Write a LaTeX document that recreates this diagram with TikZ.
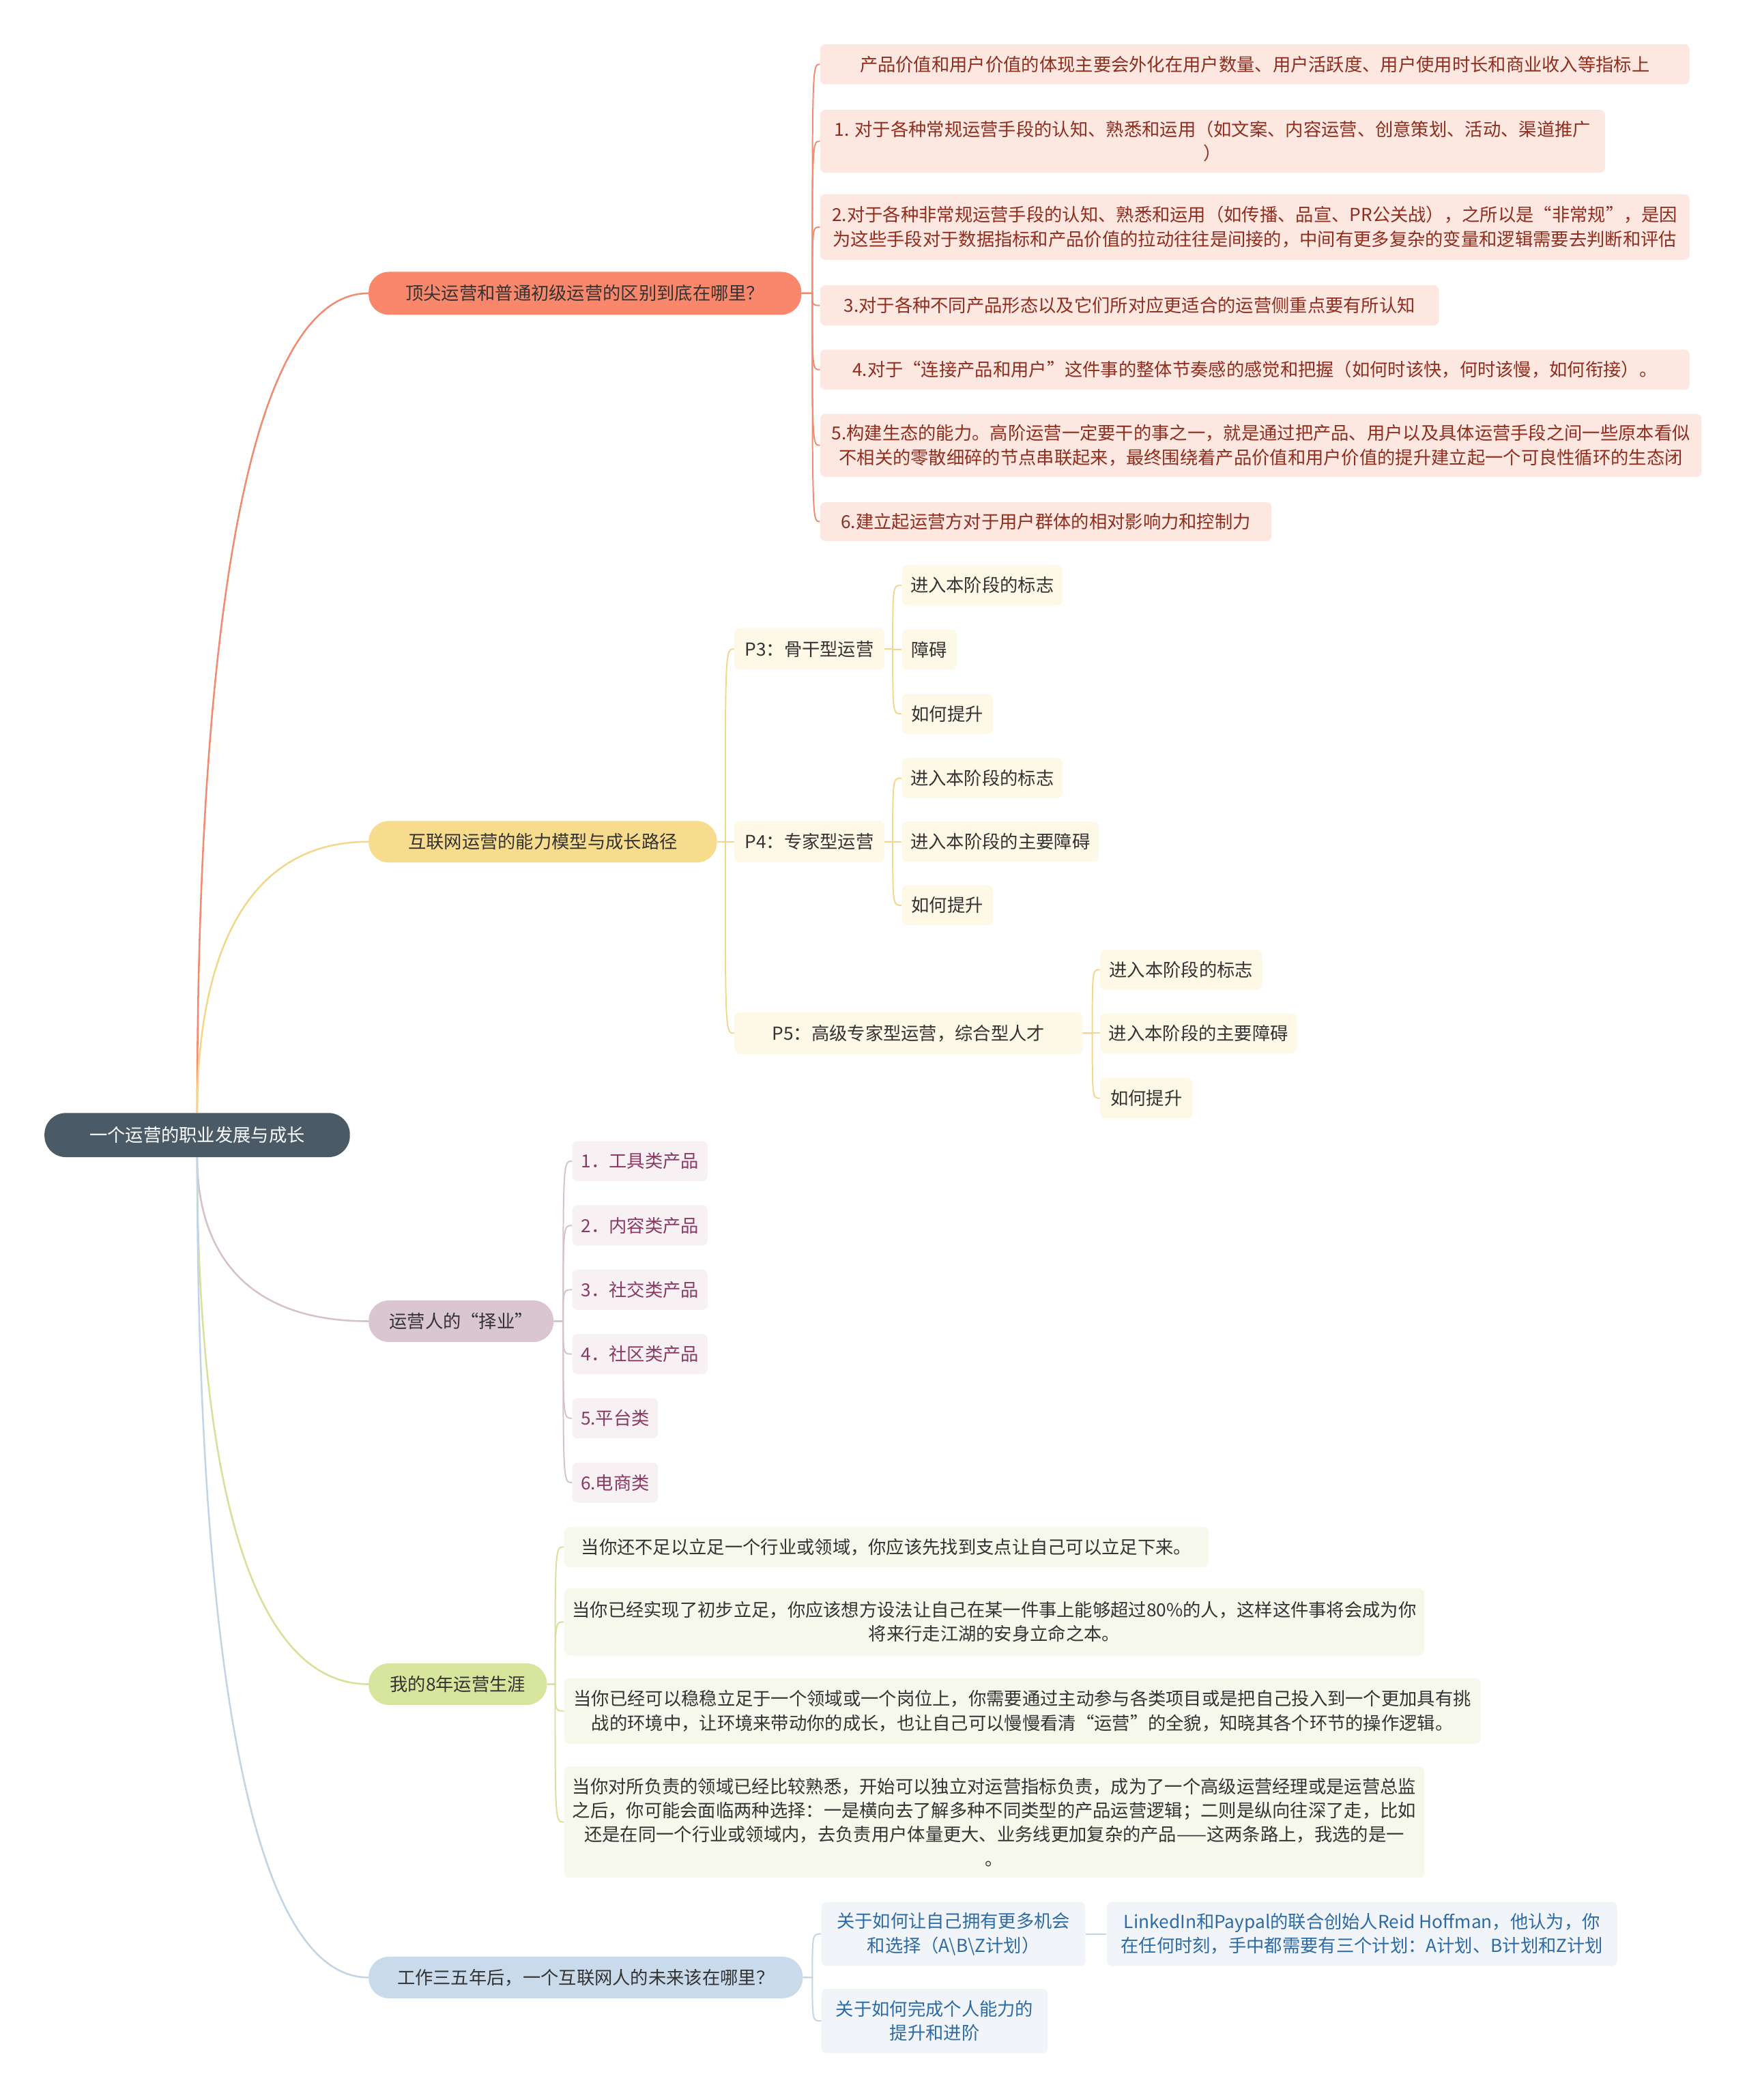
\documentclass[tikz,border=0pt]{standalone}
\usepackage{fontspec}
\setmainfont{Noto Sans CJK SC}
\usetikzlibrary{calc}
\definecolor{rootc}{HTML}{4A5A67}
\definecolor{b1c}{HTML}{F9876B}
\definecolor{b1l}{HTML}{F08C70}
\definecolor{b1k}{HTML}{FDE7E1}
\definecolor{b1t}{HTML}{8F2E1E}
\definecolor{b2c}{HTML}{F7DC8E}
\definecolor{b2l}{HTML}{F2D88C}
\definecolor{b2k}{HTML}{FEF8E7}
\definecolor{b3c}{HTML}{D9C6D0}
\definecolor{b3l}{HTML}{D5C2CC}
\definecolor{b3k}{HTML}{F7F1F4}
\definecolor{b3t}{HTML}{8A3A62}
\definecolor{b4c}{HTML}{D8E59C}
\definecolor{b4l}{HTML}{D4E29A}
\definecolor{b4k}{HTML}{F6F8EB}
\definecolor{b5c}{HTML}{C9DAEA}
\definecolor{b5l}{HTML}{C2D5E7}
\definecolor{b5k}{HTML}{F1F5F9}
\definecolor{b5t}{HTML}{2D6BA6}
\definecolor{txt}{HTML}{333333}
\newcommand{\rootlink}[3]{\draw[#1] (root.#2) .. controls ($(root.#2)!.5!(root.#2 |- #3.west)$) and ([xshift=-100pt]#3.west) .. (#3.west);}
\newcommand{\kidlink}[4]{\draw[#1] (#2.east) -- (#3) .. controls (#3 |- #4.west) .. (#4.west);}
\begin{document}
\begin{tikzpicture}[x=1pt,y=-1pt,
  every node/.style={font=\fontsize{13.4}{18}\selectfont, inner sep=0pt, align=center, anchor=west},
  rootnode/.style={fill=rootc,text=white,rounded corners=16pt},
  pill/.style={rounded corners=15pt,text=txt},
  leaf/.style={rounded corners=4pt},
  k1/.style={leaf,fill=b1k,text=b1t},
  k2/.style={leaf,fill=b2k,text=txt},
  k3/.style={leaf,fill=b3k,text=b3t},
  k4/.style={leaf,fill=b4k,text=txt},
  k5/.style={leaf,fill=b5k,text=b5t},
  lk1/.style={draw=b1l,line width=1.3pt},
  lk2/.style={draw=b2l,line width=1.3pt},
  lk3/.style={draw=b3l,line width=1.3pt},
  lk4/.style={draw=b4l,line width=1.3pt},
  lk5/.style={draw=b5l,line width=1.3pt},
  kl1/.style={draw=b1l,line width=1pt},
  kl2/.style={draw=b2l,line width=1pt},
  kl3/.style={draw=b3l,line width=1pt},
  kl4/.style={draw=b4l,line width=1pt},
  kl5/.style={draw=b5l,line width=1pt}]
\fill[white] (0,0) rectangle (1304,1568);
\useasboundingbox (0,0) rectangle (1304,1568);

% root
\node[rootnode,minimum width=228pt,minimum height=33pt] (root) at (33,847.5) {一个运营的职业发展与成长};

% branch 1
\node[pill,fill=b1c,minimum width=323pt,minimum height=32pt] (b1) at (275,219) {顶尖运营和普通初级运营的区别到底在哪里？};
\node[k1,minimum width=649pt,minimum height=30pt] (c1) at (612,48) {产品价值和用户价值的体现主要会外化在用户数量、用户活跃度、用户使用时长和商业收入等指标上};
\node[k1,minimum width=586pt,minimum height=47pt] (c2) at (612,105.5) {1. 对于各种常规运营手段的认知、熟悉和运用（如文案、内容运营、创意策划、活动、渠道推广\\）};
\node[k1,minimum width=649pt,minimum height=49pt] (c3) at (612,169.5) {2.对于各种非常规运营手段的认知、熟悉和运用（如传播、品宣、PR公关战），之所以是“非常规”，是因\\为这些手段对于数据指标和产品价值的拉动往往是间接的，中间有更多复杂的变量和逻辑需要去判断和评估};
\node[k1,minimum width=462pt,minimum height=30pt] (c4) at (612,228) {3.对于各种不同产品形态以及它们所对应更适合的运营侧重点要有所认知};
\node[k1,minimum width=649pt,minimum height=30pt] (c5) at (612,276) {4.对于“连接产品和用户”这件事的整体节奏感的感觉和把握（如何时该快，何时该慢，如何衔接）。};
\node[k1,minimum width=658pt,minimum height=47pt] (c6) at (612,332.5) {5.构建生态的能力。高阶运营一定要干的事之一，就是通过把产品、用户以及具体运营手段之间一些原本看似\\不相关的零散细碎的节点串联起来，最终围绕着产品价值和用户价值的提升建立起一个可良性循环的生态闭};
\node[k1,minimum width=337pt,minimum height=29pt] (c7) at (612,389.5) {6.建立起运营方对于用户群体的相对影响力和控制力};

% branch 2
\node[pill,fill=b2c,minimum width=260pt,minimum height=31pt] (b2) at (275,628.5) {互联网运营的能力模型与成长路径};
\node[k2,minimum width=112pt,minimum height=31pt] (p3) at (548,484.5) {P3：骨干型运营};
\node[k2,minimum width=112pt,minimum height=31pt] (p4) at (548,628.5) {P4：专家型运营};
\node[k2,minimum width=260pt,minimum height=31pt] (p5) at (548,771.5) {P5：高级专家型运营，综合型人才};
\node[k2,minimum width=120pt,minimum height=30pt] (q31) at (673,437) {进入本阶段的标志};
\node[k2,minimum width=41pt,minimum height=30pt] (q32) at (673,485) {障碍};
\node[k2,minimum width=68pt,minimum height=30pt] (q33) at (673,533) {如何提升};
\node[k2,minimum width=120pt,minimum height=30pt] (q41) at (673,581) {进入本阶段的标志};
\node[k2,minimum width=147pt,minimum height=30pt] (q42) at (673,628.5) {进入本阶段的主要障碍};
\node[k2,minimum width=68pt,minimum height=30pt] (q43) at (673,676) {如何提升};
\node[k2,minimum width=121pt,minimum height=30pt] (q51) at (821,724) {进入本阶段的标志};
\node[k2,minimum width=147pt,minimum height=30pt] (q52) at (821,771.5) {进入本阶段的主要障碍};
\node[k2,minimum width=69pt,minimum height=30pt] (q53) at (821,820) {如何提升};

% branch 3
\node[pill,fill=b3c,minimum width=138pt,minimum height=31pt] (b3) at (275,986.5) {运营人的“择业”};
\node[k3,minimum width=101pt,minimum height=30pt] (d1) at (427,867) {1．工具类产品};
\node[k3,minimum width=101pt,minimum height=30pt] (d2) at (427,915) {2．内容类产品};
\node[k3,minimum width=101pt,minimum height=30pt] (d3) at (427,963) {3．社交类产品};
\node[k3,minimum width=101pt,minimum height=30pt] (d4) at (427,1011) {4．社区类产品};
\node[k3,minimum width=64pt,minimum height=30pt] (d5) at (427,1059) {5.平台类};
\node[k3,minimum width=64pt,minimum height=30pt] (d6) at (427,1107) {6.电商类};

% branch 4
\node[pill,fill=b4c,minimum width=133pt,minimum height=31pt] (b4) at (275,1257.5) {我的8年运营生涯};
\node[k4,minimum width=481pt,minimum height=30pt] (e1) at (421,1155) {当你还不足以立足一个行业或领域，你应该先找到支点让自己可以立足下来。};
\node[k4,minimum width=642pt,minimum height=50pt] (e2) at (421,1211) {当你已经实现了初步立足，你应该想方设法让自己在某一件事上能够超过80\%的人，这样这件事将会成为你\\将来行走江湖的安身立命之本。};
\node[k4,minimum width=684pt,minimum height=49pt] (e3) at (421,1277.5) {当你已经可以稳稳立足于一个领域或一个岗位上，你需要通过主动参与各类项目或是把自己投入到一个更加具有挑\\战的环境中，让环境来带动你的成长，也让自己可以慢慢看清“运营”的全貌，知晓其各个环节的操作逻辑。};
\node[k4,minimum width=642pt,minimum height=83pt] (e4) at (421,1360.5) {当你对所负责的领域已经比较熟悉，开始可以独立对运营指标负责，成为了一个高级运营经理或是运营总监\\之后，你可能会面临两种选择：一是横向去了解多种不同类型的产品运营逻辑；二则是纵向往深了走，比如\\还是在同一个行业或领域内，去负责用户体量更大、业务线更加复杂的产品——这两条路上，我选的是一\\。};

% branch 5
\node[pill,fill=b5c,minimum width=324pt,minimum height=31pt] (b5) at (275,1476.5) {工作三五年后，一个互联网人的未来该在哪里？};
\node[k5,minimum width=197pt,minimum height=48pt] (f1) at (613,1444) {关于如何让自己拥有更多机会\\和选择（A\textbackslash B\textbackslash Z计划）};
\node[k5,minimum width=381pt,minimum height=48pt] (f1a) at (826,1444) {LinkedIn和Paypal的联合创始人Reid Hoffman，他认为，你\\在任何时刻，手中都需要有三个计划：A计划、B计划和Z计划};
\node[k5,minimum width=169pt,minimum height=48pt] (f2) at (613,1509) {关于如何完成个人能力的\\提升和进阶};

% root links
\rootlink{lk1}{north}{b1}
\rootlink{lk2}{north}{b2}
\rootlink{lk3}{south}{b3}
\rootlink{lk4}{south}{b4}
\rootlink{lk5}{south}{b5}

% bus points
\coordinate (u1) at ([xshift=8pt]b1.east);
\coordinate (u2) at ([xshift=6pt]b2.east);
\coordinate (u3) at ([xshift=6pt]p3.east);
\coordinate (u4) at ([xshift=6pt]p4.east);
\coordinate (u5) at ([xshift=7pt]p5.east);
\coordinate (u6) at ([xshift=7pt]b3.east);
\coordinate (u7) at ([xshift=6pt]b4.east);
\coordinate (u8) at ([xshift=7pt]b5.east);

\foreach \k in {c1,c2,c3,c4,c5,c6,c7} {\kidlink{kl1}{b1}{u1}{\k}}
\foreach \k in {p3,p4,p5} {\kidlink{kl2}{b2}{u2}{\k}}
\foreach \k in {q31,q32,q33} {\kidlink{kl2}{p3}{u3}{\k}}
\foreach \k in {q41,q42,q43} {\kidlink{kl2}{p4}{u4}{\k}}
\foreach \k in {q51,q52,q53} {\kidlink{kl2}{p5}{u5}{\k}}
\foreach \k in {d1,d2,d3,d4,d5,d6} {\kidlink{kl3}{b3}{u6}{\k}}
\foreach \k in {e1,e2,e3,e4} {\kidlink{kl4}{b4}{u7}{\k}}
\foreach \k in {f1,f2} {\kidlink{kl5}{b5}{u8}{\k}}
\draw[kl5] (f1.east) -- (f1a.west);
\end{tikzpicture}
\end{document}
